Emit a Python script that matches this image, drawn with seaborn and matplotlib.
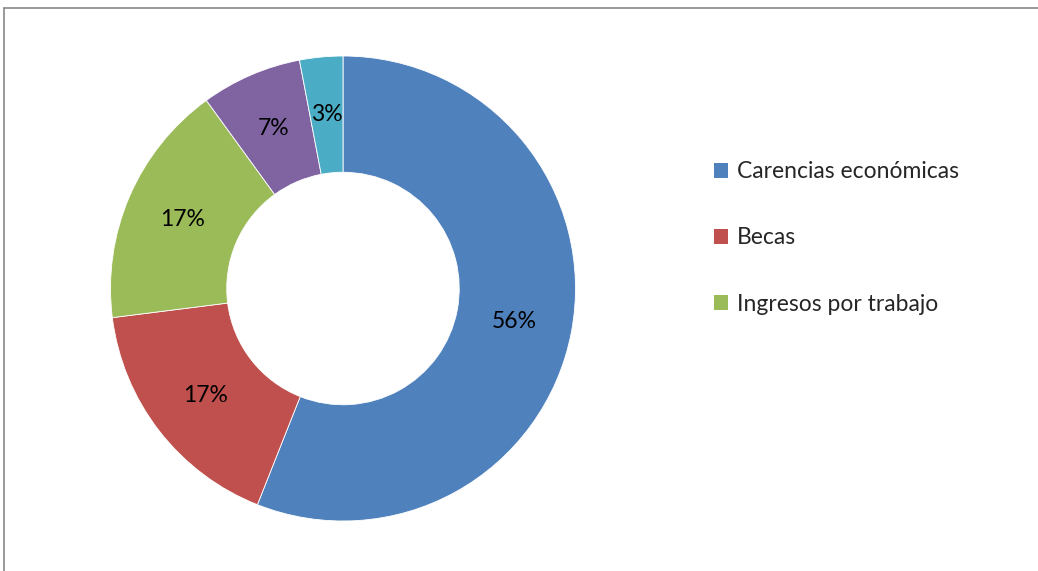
import matplotlib
matplotlib.use("Agg")
import matplotlib.pyplot as plt
import matplotlib.patches as mpatches
from matplotlib.lines import Line2D
import seaborn as sns

# Data
categories = ["Carencias económicas", "Becas", "Ingresos por trabajo", "Otros", "Sin respuesta"]
shares = [56, 17, 17, 7, 3]
slice_colors = ["#4F81BD", "#C0504D", "#9BBB59", "#8064A2", "#4BACC6"]
legend_count = 3  # legend box only has room for the first three entries

sns.set_theme(style="white")
plt.rcParams["font.family"] = ["Lato", "DejaVu Sans"]
palette = sns.color_palette(slice_colors)

W, H = 1038, 571
fig = plt.figure(figsize=(W / 100, H / 100), dpi=100)
fig.patch.set_facecolor("white")

# Donut axes: centre (343, 288.5) px, radius 232.5 px
cx, cy, r = 343, 288.5, 232.5
ax = fig.add_axes([(cx - r) / W, (H - cy - r) / H, 2 * r / W, 2 * r / H])

wedges, texts, autotexts = ax.pie(
    shares,
    colors=palette,
    startangle=90,
    counterclock=False,
    autopct=lambda p: f"{p:.0f}%",
    pctdistance=0.75,
    wedgeprops=dict(width=0.5, edgecolor="white", linewidth=0.6),
    textprops=dict(fontsize=16.5, color="black"),
)
ax.set_xlim(-1, 1)
ax.set_ylim(-1, 1)
ax.set_aspect("equal")
ax.axis("off")

# Legend
handles = [mpatches.Patch(facecolor=palette[i], edgecolor="none", label=categories[i])
           for i in range(legend_count)]
fig.legend(
    handles=handles,
    loc="center left",
    bbox_to_anchor=(714 / W, 1 - 238 / H),
    frameon=False,
    fontsize=16.5,
    handlelength=0.62,
    handleheight=0.62,
    handletextpad=0.38,
    labelspacing=1.97,
    borderpad=0,
    borderaxespad=0,
)

# Chart-area border (top and left edges)
border = "#888888"
fig.add_artist(Line2D([3.5 / W, 1.0], [1 - 7.5 / H, 1 - 7.5 / H],
                      transform=fig.transFigure, color=border, linewidth=1.2))
fig.add_artist(Line2D([3.5 / W, 3.5 / W], [0.0, 1 - 7.5 / H],
                      transform=fig.transFigure, color=border, linewidth=1.2))

fig.savefig("out.png", dpi=100, facecolor="white")
